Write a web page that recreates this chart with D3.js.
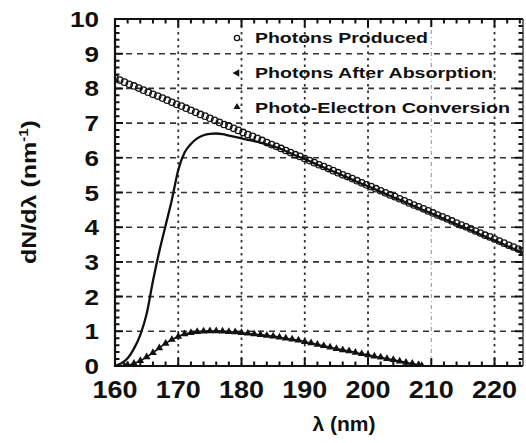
<!DOCTYPE html>
<html>
<head>
<meta charset="utf-8">
<script src="https://cdn.jsdelivr.net/npm/d3@7"></script>
<style>
  html, body { margin: 0; padding: 0; background: #fff; }
  svg { display: block; }
  text { font-family: "Liberation Sans", Arial, Helvetica, sans-serif; font-weight: bold; fill: #111; }
</style>
</head>
<body>
<svg id="chart" width="526" height="443"></svg>
<script>
// Wavelength grid and spectra (dN/dλ, per nm)
const producedLambda = d3.range(160, 224.6, 0.75);
const producedValues = [
  8.30,
  8.24, 8.18, 8.12, 8.07, 8.01,
  7.95, 7.89, 7.83, 7.78, 7.72,
  7.66, 7.60, 7.54, 7.49, 7.43,
  7.37, 7.31, 7.25, 7.20, 7.14,
  7.08, 7.02, 6.96, 6.91, 6.85,
  6.79, 6.73, 6.67, 6.62, 6.56,
  6.50, 6.44, 6.38, 6.33, 6.27,
  6.21, 6.15, 6.09, 6.04, 5.98,
  5.92, 5.86, 5.80, 5.75, 5.69,
  5.63, 5.57, 5.51, 5.46, 5.40,
  5.34, 5.28, 5.22, 5.17, 5.11,
  5.05, 4.99, 4.93, 4.88, 4.82,
  4.76, 4.70, 4.64, 4.59, 4.53,
  4.47, 4.41, 4.35, 4.30, 4.24,
  4.18, 4.12, 4.06, 4.01, 3.95,
  3.89, 3.83, 3.77, 3.72, 3.66,
  3.60, 3.54, 3.48, 3.43, 3.37,
  3.31
];

const absorbedLambda = [
  160, 161, 162, 163, 164, 165, 166, 167, 168, 169, 170, 171, 172, 173, 174,
  175, 176, 177, 178, 179, 180, 181, 182, 183, 184, 185, 186, 187, 188, 189,
  190, 191, 192, 193, 194, 195, 196, 197, 198, 199, 200, 201, 202, 203, 204,
  205, 206, 207, 208, 209, 210, 211, 212, 213, 214, 215, 216, 217, 218, 219,
  220, 221, 222, 223, 224, 224.5
];
const absorbedValues = [
  0.00, 0.08, 0.22, 0.50, 0.90, 1.50, 2.45, 3.30, 4.05, 4.80, 5.65, 6.15, 6.40, 6.56, 6.65,
  6.69, 6.70, 6.68, 6.64, 6.60, 6.56, 6.52, 6.48, 6.44, 6.39, 6.33, 6.27, 6.19, 6.11, 6.03,
  5.96, 5.88, 5.80, 5.72, 5.64, 5.57, 5.49, 5.41, 5.33, 5.25, 5.18, 5.10, 5.02, 4.94, 4.86,
  4.79, 4.71, 4.63, 4.55, 4.47, 4.40, 4.32, 4.24, 4.16, 4.08, 4.01, 3.93, 3.85, 3.77, 3.69,
  3.62, 3.54, 3.46, 3.38, 3.30, 3.26
];

const electronLambda = [
  161.5, 162, 163, 164, 165, 166, 167, 168, 169, 170, 171, 172, 173, 174, 175,
  176, 177, 178, 179, 180, 181, 182, 183, 184, 185, 186, 187, 188, 189, 190,
  191, 192, 193, 194, 195, 196, 197, 198, 199, 200, 201, 202, 203, 204, 205,
  206, 207, 208, 208.5
];
const electronValues = [
  0.00, 0.02, 0.07, 0.15, 0.26, 0.38, 0.52, 0.65, 0.76, 0.85, 0.92, 0.96, 0.99, 1.00, 1.01,
  1.01, 1.00, 0.99, 0.98, 0.96, 0.94, 0.92, 0.90, 0.88, 0.86, 0.83, 0.80, 0.77, 0.74, 0.70,
  0.66, 0.62, 0.58, 0.54, 0.50, 0.46, 0.43, 0.39, 0.35, 0.32, 0.28, 0.25, 0.21, 0.18, 0.14,
  0.10, 0.07, 0.03, 0.01
];

const xTicks = [160, 170, 180, 190, 200, 210, 220];
const yTicks = [0, 1, 2, 3, 4, 5, 6, 7, 8, 9, 10];
const xMinor = [162, 164, 166, 168, 172, 174, 176, 178, 182, 184, 186, 188, 192, 194, 196, 198,
                202, 204, 206, 208, 212, 214, 216, 218, 222, 224];
const yMinor = [0.2, 0.4, 0.6, 0.8, 1.2, 1.4, 1.6, 1.8, 2.2, 2.4, 2.6, 2.8, 3.2, 3.4, 3.6, 3.8,
                4.2, 4.4, 4.6, 4.8, 5.2, 5.4, 5.6, 5.8, 6.2, 6.4, 6.6, 6.8, 7.2, 7.4, 7.6, 7.8,
                8.2, 8.4, 8.6, 8.8, 9.2, 9.4, 9.6, 9.8];
const legendLabels = ["Photons Produced", "Photons After Absorption", "Photo-Electron Conversion"];

const svg = d3.select("#chart");
const pL = 115, pR = 523, pT = 19, pB = 366;

const x = d3.scaleLinear().domain([160, 224.5]).range([pL, pR]);
const y = d3.scaleLinear().domain([0, 10]).range([pB, pT]);

// Grid lines
const grid = svg.append("g");
grid.selectAll("line.h").data(yTicks.filter(d => d > 0 && d < 10)).join("line")
  .attr("class", "h")
  .attr("x1", pL).attr("x2", pR)
  .attr("y1", d => y(d)).attr("y2", d => y(d))
  .attr("stroke", "#333").attr("stroke-width", 1.6).attr("stroke-dasharray", "6,5");
grid.selectAll("line.v").data(xTicks.filter(d => d > 160)).join("line")
  .attr("class", "v")
  .attr("x1", d => x(d)).attr("x2", d => x(d))
  .attr("y1", pT).attr("y2", pB)
  .attr("stroke", d => d === 210 ? "#999" : "#333")
  .attr("stroke-width", d => d === 210 ? 1.1 : 1.8)
  .attr("stroke-dasharray", d => d === 210 ? "4,3,1,3" : "2.5,4");

// Inward ticks on all four sides of the frame, drawn as one path
const xt = xTicks.map(v => [v, 8]).concat(xMinor.map(v => [v, 4.5]));
const yt = yTicks.map(v => [v, 8]).concat(yMinor.map(v => [v, 4.5]));
const tickPath = d3.path();
xt.forEach(([v, len]) => {
  tickPath.moveTo(x(v), pB); tickPath.lineTo(x(v), pB - len);
  tickPath.moveTo(x(v), pT); tickPath.lineTo(x(v), pT + len);
});
yt.forEach(([v, len]) => {
  tickPath.moveTo(pL, y(v)); tickPath.lineTo(pL + len, y(v));
  tickPath.moveTo(pR, y(v)); tickPath.lineTo(pR - len, y(v));
});
svg.append("path").attr("d", tickPath.toString())
  .attr("fill", "none").attr("stroke", "#111").attr("stroke-width", 2);

svg.append("path")
  .attr("d", `M${pR},${pT}H${pL}V${pB}H${pR}`)
  .attr("fill", "none").attr("stroke", "#111").attr("stroke-width", 2.2);
svg.append("line").attr("x1", pR).attr("x2", pR).attr("y1", pT).attr("y2", pB)
  .attr("stroke", "#333").attr("stroke-width", 1.4);

// Tick labels
svg.append("g").selectAll("text").data(xTicks).join("text")
  .attr("x", d => x(d)).attr("y", 398)
  .attr("text-anchor", "middle").attr("font-size", 24)
  .attr("textLength", 45).attr("lengthAdjust", "spacingAndGlyphs")
  .text(d => d);
svg.append("g").selectAll("text").data(yTicks).join("text")
  .attr("x", 99).attr("y", d => y(d) + 8)
  .attr("text-anchor", "end").attr("font-size", 22)
  .attr("textLength", d => String(d).length * 14.5).attr("lengthAdjust", "spacingAndGlyphs")
  .text(d => d);

// Axis titles
svg.append("text")
  .attr("x", 344).attr("y", 431).attr("text-anchor", "middle")
  .attr("font-size", 21).attr("textLength", 63).attr("lengthAdjust", "spacingAndGlyphs")
  .text("λ (nm)");
const yTitle = svg.append("text")
  .attr("transform", "translate(36,192) rotate(-90) scale(1.25,1)")
  .attr("text-anchor", "middle").attr("font-size", 20);
yTitle.append("tspan").text("dN/dλ (nm");
yTitle.append("tspan").attr("dy", -8).attr("font-size", 12).text("-1");
yTitle.append("tspan").attr("dy", 8).text(")");

// Plot area clip
svg.append("clipPath").attr("id", "plotClip")
  .append("rect").attr("x", pL).attr("y", pT - 4).attr("width", pR - pL).attr("height", pB - pT + 4);
const plot = svg.append("g").attr("clip-path", "url(#plotClip)");

// Photo-electron conversion: thin line with filled triangles
const electron = electronLambda.map((l, i) => [l, electronValues[i]]);
plot.append("path").datum(electron)
  .attr("d", d3.line().x(d => x(d[0])).y(d => y(d[1])).curve(d3.curveMonotoneX))
  .attr("fill", "none").attr("stroke", "#111").attr("stroke-width", 1.6);
const tri = d3.symbol().type(d3.symbolTriangle).size(26);
plot.append("g").selectAll("path").data(electron).join("path")
  .attr("transform", d => `translate(${x(d[0])},${y(d[1])})`)
  .attr("d", tri).attr("fill", "#111");

// Photons produced: open circles
plot.append("g").selectAll("circle").data(producedLambda.map((l, i) => [l, producedValues[i]])).join("circle")
  .attr("cx", d => x(d[0])).attr("cy", d => y(d[1])).attr("r", 3.2)
  .attr("fill", "none").attr("stroke", "#111").attr("stroke-width", 1.3);

// Photons after absorption: solid curve
plot.append("path").datum(absorbedLambda.map((l, i) => [l, absorbedValues[i]]))
  .attr("d", d3.line().x(d => x(d[0])).y(d => y(d[1])).curve(d3.curveMonotoneX))
  .attr("fill", "none").attr("stroke", "#111").attr("stroke-width", 2.3);

// Legend
const legendRows = [
  { label: legendLabels[0], cy: 38, baseline: 43, width: 173 },
  { label: legendLabels[1], cy: 73, baseline: 78, width: 238 },
  { label: legendLabels[2], cy: 107, baseline: 113, width: 255 }
];
const lg = svg.append("g");
lg.append("circle").attr("cx", 237).attr("cy", legendRows[0].cy).attr("r", 2.6)
  .attr("fill", "none").attr("stroke", "#111").attr("stroke-width", 1.3);
lg.append("path").attr("transform", `translate(237,${legendRows[1].cy}) rotate(-90)`)
  .attr("d", d3.symbol().type(d3.symbolTriangle).size(26)).attr("fill", "#111");
lg.append("path").attr("transform", `translate(237,${legendRows[2].cy})`)
  .attr("d", d3.symbol().type(d3.symbolTriangle).size(22)).attr("fill", "#111");
lg.selectAll("text").data(legendRows).join("text")
  .attr("x", 255).attr("y", d => d.baseline)
  .attr("font-size", 15).attr("textLength", d => d.width).attr("lengthAdjust", "spacingAndGlyphs")
  .text(d => d.label);
</script>
</body>
</html>
